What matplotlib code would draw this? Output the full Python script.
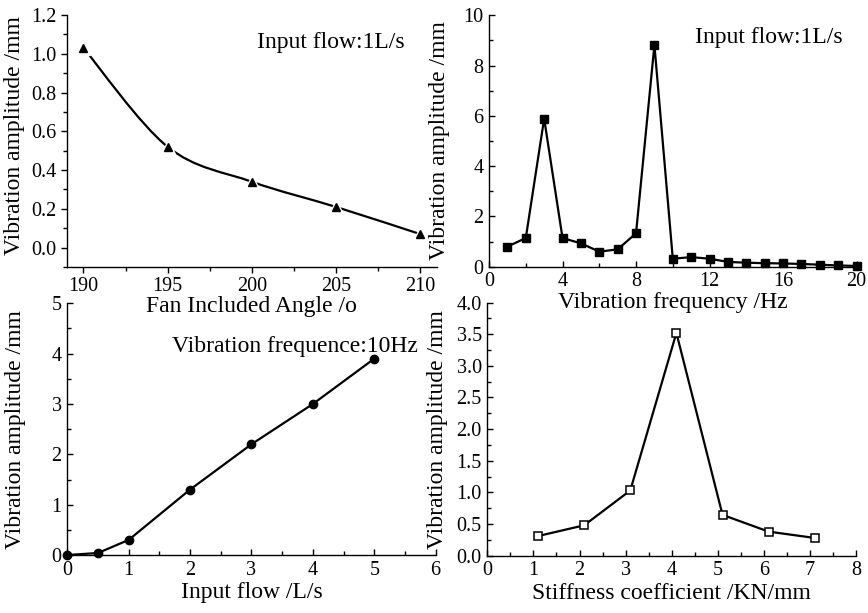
import numpy as np
import matplotlib
matplotlib.use('Agg')
import matplotlib.pyplot as plt
from matplotlib.path import Path
from matplotlib.patches import PathPatch
from matplotlib.ticker import MultipleLocator, FormatStrFormatter

plt.rcParams['font.family'] = ['Liberation Serif', 'DejaVu Serif']

# ---- data ----
angle = [190, 195, 200, 205, 210]
amp_angle = [1.03, 0.52, 0.34, 0.21, 0.07]

freq = [1, 2, 3, 4, 5, 6, 7, 8, 9, 10, 11, 12, 13, 14, 15, 16, 17, 18, 19, 20]
amp_freq = [0.80, 1.14, 5.89, 1.14, 0.93, 0.60, 0.69, 1.33, 8.82, 0.32,
            0.38, 0.32, 0.19, 0.16, 0.14, 0.13, 0.11, 0.08, 0.05, 0.03]

flow = [0, 0.5, 1, 2, 3, 4, 5]
amp_flow = [0.0, 0.04, 0.30, 1.30, 2.20, 3.00, 3.90]

stiff = [1.1, 2.1, 3.1, 4.1, 5.1, 6.1, 7.1]
amp_stiff = [0.31, 0.48, 1.03, 3.52, 0.645, 0.38, 0.28]

ylabel = 'Vibration amplitude /mm'
LBL = 17
TCK = 14.5

fig = plt.figure(figsize=(8.68, 6.13), dpi=100)

ax1 = fig.add_axes([0.0768, 0.5644, 0.4266, 0.4111])
ax2 = fig.add_axes([0.5634, 0.5649, 0.4234, 0.4101])
ax3 = fig.add_axes([0.0775, 0.0946, 0.4244, 0.4106])
ax4 = fig.add_axes([0.5614, 0.0935, 0.4251, 0.4130])
for a in (ax1, ax2, ax3, ax4):
    a.patch.set_visible(False)


def style(ax, direction, xmaj, xmin, ymaj, ymin, xpad, ypad):
    for s in ['top', 'right']:
        ax.spines[s].set_visible(False)
    for s in ['left', 'bottom']:
        ax.spines[s].set_linewidth(1.0)
    ax.xaxis.set_major_locator(MultipleLocator(xmaj))
    ax.xaxis.set_minor_locator(MultipleLocator(xmin))
    ax.yaxis.set_major_locator(MultipleLocator(ymaj))
    ax.yaxis.set_minor_locator(MultipleLocator(ymin))
    ax.tick_params(which='both', direction=direction, top=False, right=False,
                   width=1.0, labelsize=TCK)
    ax.tick_params(which='major', length=4.5)
    ax.tick_params(which='minor', length=2.8)
    ax.tick_params(axis='x', which='major', pad=xpad)
    ax.tick_params(axis='y', which='major', pad=ypad)


# ---- panel 1: fan included angle ----
ax1.set_xlim(189, 211)
ax1.set_ylim(-0.1, 1.2)
style(ax1, 'out', 5, 2.5, 0.2, 0.1, 3, 3)
ax1.set_yticks([0.0, 0.2, 0.4, 0.6, 0.8, 1.0, 1.2])
ax1.yaxis.set_major_formatter(FormatStrFormatter('%.1f'))

# smooth (Catmull-Rom) connecting curve through the measured points
xs = np.array(angle, dtype=float)
ys = np.array(amp_angle, dtype=float)
verts = [(xs[0], ys[0])]
codes = [Path.MOVETO]
n = len(xs)
for i in range(n - 1):
    p0 = np.array([xs[max(i - 1, 0)], ys[max(i - 1, 0)]])
    p1 = np.array([xs[i], ys[i]])
    p2 = np.array([xs[i + 1], ys[i + 1]])
    p3 = np.array([xs[min(i + 2, n - 1)], ys[min(i + 2, n - 1)]])
    c1 = p1 + (p2 - p0) / 6.0
    c2 = p2 - (p3 - p1) / 6.0
    verts += [tuple(c1), tuple(c2), tuple(p2)]
    codes += [Path.CURVE4, Path.CURVE4, Path.CURVE4]
ax1.add_patch(PathPatch(Path(verts, codes), fill=False, lw=1.6,
                        edgecolor='black', zorder=2))
ax1.plot(angle, amp_angle, linestyle='none', marker='^', ms=10,
         color='white', zorder=3)
ax1.plot(angle, amp_angle, linestyle='none', marker='^', ms=6,
         color='black', zorder=4)
ax1.set_xlabel('Fan Included Angle /o', fontsize=LBL)
ax1.set_ylabel(ylabel, fontsize=LBL)
ax1.text(0.914, 0.868, 'Input flow:1L/s', transform=ax1.transAxes,
         ha='right', va='baseline', fontsize=LBL)

# ---- panel 2: vibration frequency ----
ax2.set_xlim(0, 20)
ax2.set_ylim(0, 10)
style(ax2, 'in', 4, 2, 2, 1, 4, 4)
ax2.plot(freq, amp_freq, color='black', lw=1.6, marker='s', ms=5.5,
         mec='black', mfc='black', clip_on=False, zorder=3)
ax2.set_xlabel('Vibration frequency /Hz', fontsize=LBL)
ax2.set_ylabel(ylabel, fontsize=LBL)
ax2.text(0.961, 0.891, 'Input flow:1L/s', transform=ax2.transAxes,
         ha='right', va='baseline', fontsize=LBL)

# ---- panel 3: input flow ----
ax3.set_xlim(0, 6)
ax3.set_ylim(0, 5)
style(ax3, 'in', 1, 0.5, 1, 0.5, 4, 4)
ax3.plot(flow, amp_flow, color='black', lw=1.6, marker='o', ms=6,
         clip_on=False, zorder=3)
ax3.set_xlabel('Input flow /L/s', fontsize=LBL)
ax3.set_ylabel(ylabel, fontsize=LBL)
ax3.text(0.953, 0.808, 'Vibration frequence:10Hz', transform=ax3.transAxes,
         ha='right', va='baseline', fontsize=LBL)

# ---- panel 4: stiffness coefficient ----
ax4.set_xlim(0, 8)
ax4.set_ylim(0, 4)
style(ax4, 'in', 1, 0.5, 0.5, 0.25, 4, 4)
ax4.yaxis.set_major_formatter(FormatStrFormatter('%.1f'))
ax4.plot(stiff, amp_stiff, color='black', lw=1.6, marker='s', ms=6,
         mfc='white', mec='black', mew=1.1, zorder=3)
ax4.set_xlabel('Stiffness coefficient /KN/mm', fontsize=LBL)
ax4.set_ylabel(ylabel, fontsize=LBL)

# label placement
ax1.xaxis.set_label_coords(0.5, -0.114)
ax2.xaxis.set_label_coords(0.5, -0.100)
ax3.xaxis.set_label_coords(0.5, -0.107)
ax4.xaxis.set_label_coords(0.5, -0.108)
ax1.yaxis.set_label_coords(-0.113, 0.52)
ax2.yaxis.set_label_coords(-0.106, 0.5)
ax3.yaxis.set_label_coords(-0.112, 0.5)
ax4.yaxis.set_label_coords(-0.107, 0.5)

fig.savefig('out.png', dpi=100)
